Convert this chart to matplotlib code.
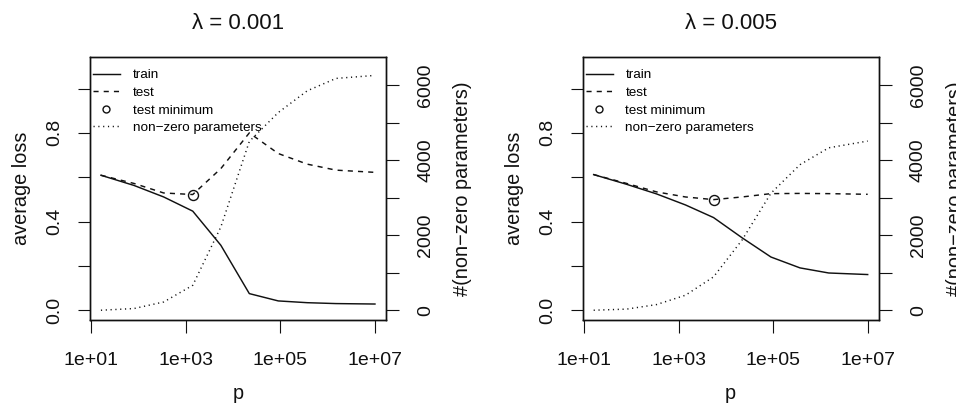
"""Train/test loss and sparsity against model size for two lasso penalties."""
import matplotlib
matplotlib.use("Agg")
import matplotlib.pyplot as plt
from matplotlib.lines import Line2D
from matplotlib.ticker import FixedLocator, FixedFormatter, NullLocator
import numpy as np

INK = "#111111"
plt.rcParams.update({"font.family": ["Liberation Sans", "DejaVu Sans"]})

# number of features p
p = [16, 80, 340, 1400, 5500, 22000, 90000, 370000, 1.5e6, 1e7]

lambdas = ["0.001", "0.005"]
train_a = [0.609, 0.563, 0.511, 0.447, 0.293, 0.075, 0.042, 0.034, 0.030, 0.028]
test_a = [0.609, 0.572, 0.529, 0.522, 0.639, 0.800, 0.707, 0.659, 0.632, 0.622]
nonzero_a = [0, 45, 220, 665, 2220, 4500, 5270, 5850, 6180, 6260]

train_b = [0.612, 0.568, 0.525, 0.475, 0.418, 0.327, 0.240, 0.191, 0.168, 0.161]
test_b = [0.612, 0.572, 0.534, 0.511, 0.499, 0.511, 0.526, 0.527, 0.526, 0.523]
nonzero_b = [0, 30, 150, 400, 890, 1870, 3120, 3880, 4330, 4510]

xticks = [1e1, 1e3, 1e5, 1e7]
xtick_labels = ["1e+01", "1e+03", "1e+05", "1e+07"]
loss_ticks = [0.0, 0.2, 0.4, 0.6, 0.8, 1.0]
loss_labels = ["0.0", "", "0.4", "", "0.8", ""]
nz_ticks = [0, 1000, 2000, 3000, 4000, 5000, 6000]
nz_labels = ["0", "", "2000", "", "4000", "", "6000"]

LW = 1.05
DASH = (0, (3.5, 3.5))
DOT = (0, (0.8, 2.5))
LOSS_LIM = (-0.044, 1.144)
NZ_SCALE = 6500 / 1.1
FS = 14

fig = plt.figure(figsize=(9.56, 4.07), dpi=100)


def style_axis(a):
    for s in a.spines.values():
        s.set_linewidth(1.0)
        s.set_color(INK)
    a.tick_params(direction="out", length=9, width=0.8, color=INK,
                  labelsize=FS, labelcolor=INK)


def panel(left, lam, train, test, nonzero):
    ax = fig.add_axes([left, 0.2138, 0.3096, 0.647])
    ax.set_xscale("log")
    ax.plot(p, train, color=INK, lw=LW)
    ax.plot(p, test, color=INK, lw=LW, ls=DASH)
    i = int(np.argmin(test))
    ax.plot(p[i], test[i], ls="none", marker="o", ms=7.2, mfc="none",
            mec=INK, mew=1.0)
    ax.set_xlim(10 ** 0.972, 10 ** 7.232)
    ax.set_ylim(*LOSS_LIM)
    ax.xaxis.set_major_locator(FixedLocator(xticks))
    ax.xaxis.set_major_formatter(FixedFormatter(xtick_labels))
    ax.xaxis.set_minor_locator(NullLocator())
    ax.yaxis.set_major_locator(FixedLocator(loss_ticks))
    ax.yaxis.set_major_formatter(FixedFormatter(loss_labels))
    style_axis(ax)
    ax.tick_params(axis="x", pad=14)
    ax.tick_params(axis="y", pad=10)
    for t in ax.get_yticklabels():
        t.set_rotation(90)
        t.set_va("center")
    ax.set_xlabel("p", fontsize=14.3, labelpad=11, color=INK)
    ax.set_ylabel("average loss", fontsize=14.3, labelpad=11, color=INK)
    ax.set_title("λ = " + lam, fontsize=16, pad=20, color=INK)

    ax2 = ax.twinx()
    ax2.plot(p, nonzero, color=INK, lw=LW, ls=DOT)
    ax2.set_ylim(LOSS_LIM[0] * NZ_SCALE, LOSS_LIM[1] * NZ_SCALE)
    ax2.yaxis.set_major_locator(FixedLocator(nz_ticks))
    ax2.yaxis.set_major_formatter(FixedFormatter(nz_labels))
    style_axis(ax2)
    ax2.tick_params(axis="y", pad=13.5)
    for t in ax2.get_yticklabels():
        t.set_rotation(90)
        t.set_va("center")
    ax2.set_ylabel("#(non\u2212zero parameters)", fontsize=14.3, labelpad=13.5,
                   color=INK)

    handles = [
        Line2D([], [], color=INK, lw=LW),
        Line2D([], [], color=INK, lw=LW, ls=DASH),
        Line2D([], [], ls="none", marker="o", ms=5, mfc="none", mec=INK, mew=1.0),
        Line2D([], [], color=INK, lw=LW, ls=DOT),
    ]
    names = ["train", "test", "test minimum", "non\u2212zero parameters"]
    ax2.legend(handles, names, loc="upper left", bbox_to_anchor=(0.01, 0.953),
               frameon=False, fontsize=9.7, handlelength=2.0,
               handletextpad=0.95, labelspacing=0.38, borderpad=0,
               borderaxespad=0)


panel(0.0941, lambdas[0], train_a, test_a, nonzero_a)
panel(0.6095, lambdas[1], train_b, test_b, nonzero_b)

fig.savefig("out.png", dpi=100, facecolor="white")
